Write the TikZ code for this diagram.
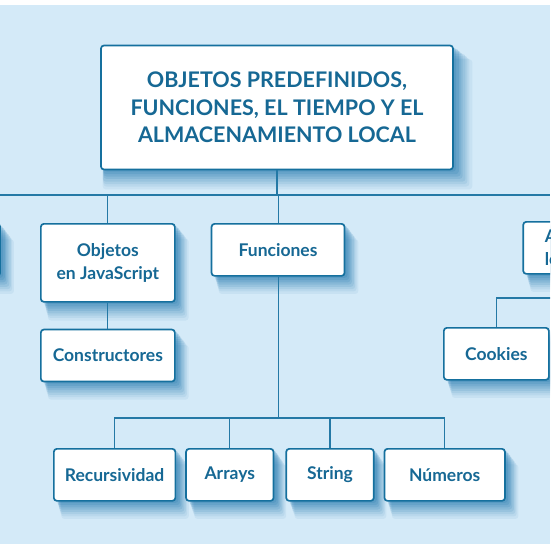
\documentclass[tikz,border=0pt]{standalone}
\usepackage{fontspec}
\setmainfont{Lato}
\usepackage{xcolor}
\usepackage{tikz}
\usetikzlibrary{positioning, shadows}
\definecolor{azulborde}{HTML}{15709E}
\definecolor{azultexto}{HTML}{166894}
\definecolor{azulfondo}{HTML}{D4EAF8}
\definecolor{azulsombra}{HTML}{2176AE}
\definecolor{azullinea}{HTML}{2479A6}

\begin{document}
\begin{tikzpicture}[
    x=1pt, y=-1pt,
    node distance=10pt and 10pt,
    sombra/.style={
      general shadow={fill=azulsombra, opacity=.07, shadow xshift=10pt, shadow yshift=-16pt, shadow scale=1.05},
      general shadow={fill=azulsombra, opacity=.08, shadow xshift=9pt, shadow yshift=-14pt, shadow scale=1.04},
      general shadow={fill=azulsombra, opacity=.10, shadow xshift=8pt, shadow yshift=-12pt, shadow scale=1.035},
      general shadow={fill=azulsombra, opacity=.12, shadow xshift=7pt, shadow yshift=-10pt, shadow scale=1.03},
      general shadow={fill=azulsombra, opacity=.14, shadow xshift=6pt, shadow yshift=-8pt, shadow scale=1.02},
      general shadow={fill=azulsombra, opacity=.16, shadow xshift=5pt, shadow yshift=-6pt, shadow scale=1.015},
      general shadow={fill=azulsombra, opacity=.18, shadow xshift=4pt, shadow yshift=-4pt, shadow scale=1.01},
      general shadow={fill=azulsombra, opacity=.20, shadow xshift=3pt, shadow yshift=-2pt}},
    caja/.style={draw=azulborde, line width=1.7pt, rounded corners=3pt, fill=white, sombra, text=azultexto, font=\bfseries\fontsize{17.5}{23}\selectfont, align=center, inner sep=2pt, minimum height=52pt},
    titulo/.style={caja, font=\bfseries\fontsize{21.5}{27.5}\selectfont, minimum width=352pt, minimum height=124pt},
    linea/.style={draw=azullinea, line width=1.1pt}
  ]
    \useasboundingbox (0,0) rectangle (550,550);
    \clip (0,0) rectangle (550,550);
    \fill[white] (0,0) rectangle (550,550);
    \fill[azulfondo] (0,5) rectangle (550,544);

    % buses
    \coordinate (busarriba) at (0,195);
    \coordinate (busabajo) at (0,418);
    \coordinate (ramaalm) at (0,298);

    \node[titulo] (tit) at (277,107.5) {OBJETOS PREDEFINIDOS,\\FUNCIONES, EL TIEMPO Y EL\\ALMACENAMIENTO LOCAL};

    \node[caja, minimum width=134pt, minimum height=78pt, anchor=north west] (obj) at (40,223) {Objetos\\en JavaScript};
    \node[caja, minimum width=133pt, right=35pt of obj.north east, anchor=north west] (fun) {Funciones};
    \node[caja, minimum width=133pt, left=39pt of obj.north west, anchor=north east] (pre) {};
    \node[caja, minimum width=133pt, text width=90pt, align=left, right=177pt of fun.north east, anchor=north west, yshift=2pt] (alm) {Almacenamiento\\local};
    \node[caja, minimum width=134pt, below=26pt of obj] (cons) {Constructores};
    \node[caja, minimum width=105pt, anchor=north west] (cook) at (443,327) {Cookies};

    \node[caja, minimum width=121.5pt, anchor=north west] (rec) at (53,448) {Recursividad};
    \node[caja, minimum width=87.5pt, right=9pt of rec] (arr) {Arrays};
    \node[caja, minimum width=87.5pt, right=11pt of arr] (str) {String};
    \node[caja, minimum width=120.5pt, right=9pt of str] (num) {Números};

    % conectores
    \draw[linea] (busarriba) -- (busarriba -| 550,0);
    \draw[linea] (tit.south) -- (tit.south |- busarriba);
    \draw[linea] (pre.north) -- (pre.north |- busarriba);
    \draw[linea] (obj.north) -- (obj.north |- busarriba);
    \draw[linea] (fun.north) -- (fun.north |- busarriba);
    \draw[linea] (alm.north) -- (alm.north |- busarriba);
    \draw[linea] (obj) -- (cons);
    \draw[linea] (alm.south) |- (ramaalm -| cook.north) -- (cook.north);
    \draw[linea] (fun.south) -- (fun.south |- busabajo);
    \draw[linea] (rec.north) |- (busabajo -| num.north) -- (num.north);
    \draw[linea] (arr.north) -- (arr.north |- busabajo);
    \draw[linea] (str.north) -- (str.north |- busabajo);
\end{tikzpicture}
\end{document}
